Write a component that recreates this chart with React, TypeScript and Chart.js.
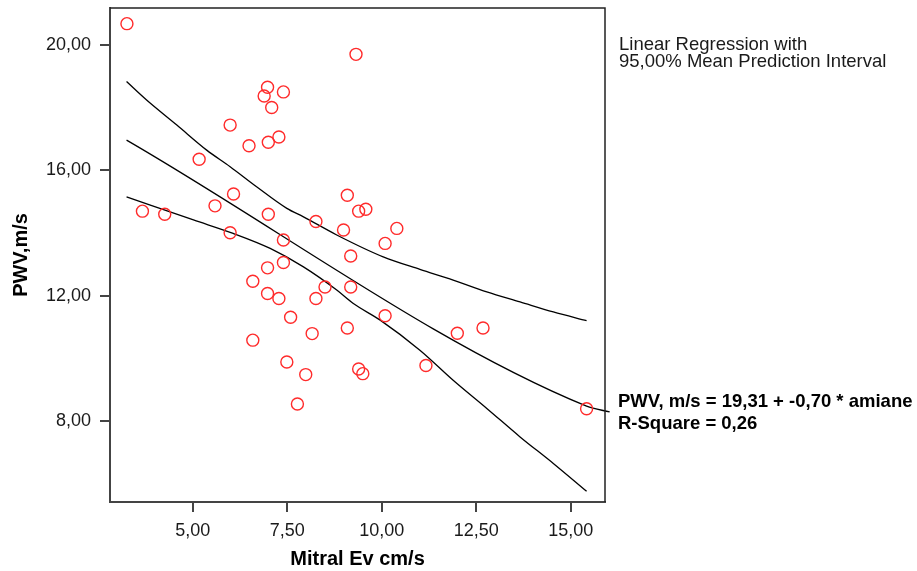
import React, { useEffect, useRef } from "react";
import { Chart, registerables } from "chart.js";

Chart.register(...registerables);

// Observed points (Mitral Ev cm/s, PWV m/s)
const pointX = [3.26, 5.99, 6.98, 6.89, 7.40, 7.09, 7.28, 7.00, 6.49, 5.17, 6.08, 9.32, 9.09, 3.67, 4.26, 5.59, 7.00, 5.99, 7.40, 7.40, 6.98, 6.59, 6.98, 7.28, 8.26, 7.59, 6.59, 8.16, 7.49, 7.99, 7.77, 8.26, 9.39, 9.58, 8.99, 10.40, 10.09, 9.18, 8.50, 9.18, 10.09, 9.09, 12.00, 12.68, 11.17, 9.39, 9.50, 15.42];
const pointY = [20.69, 17.45, 18.66, 18.38, 18.51, 18.01, 17.07, 16.90, 16.79, 16.36, 15.25, 19.71, 15.21, 14.70, 14.60, 14.87, 14.60, 14.01, 13.78, 13.06, 12.89, 12.46, 12.07, 11.91, 11.91, 11.31, 10.58, 10.79, 9.88, 9.48, 8.54, 14.37, 14.70, 14.76, 14.10, 14.15, 13.67, 13.27, 12.28, 12.28, 11.36, 10.97, 10.80, 10.97, 9.77, 9.66, 9.51, 8.39];

// Regression line (with leader to the equation label)
const fitX = [3.25, 15.42, 16.03];
const fitY = [16.97, 8.47, 8.29];

// 95% mean prediction interval curves
const upperX = [3.25, 3.78, 4.58, 5.37, 5.99, 6.69, 7.49, 7.93, 8.81, 10.04, 11.01, 11.89, 12.78, 13.66, 14.54, 15.42];
const upperY = [18.84, 18.25, 17.45, 16.65, 16.12, 15.48, 14.79, 14.52, 13.94, 13.24, 12.84, 12.50, 12.12, 11.80, 11.48, 11.20];
const lowerX = [3.25, 5.02, 6.07, 7.05, 7.93, 8.81, 9.25, 9.96, 11.01, 11.89, 12.78, 13.66, 14.54, 15.42];
const lowerY = [15.16, 14.42, 13.99, 13.51, 12.92, 12.18, 11.75, 11.22, 10.26, 9.30, 8.40, 7.49, 6.64, 5.75];

const xTicks = [5, 7.5, 10, 12.5, 15];
const yTicks = [8, 12, 16, 20];

const xTitle = "Mitral Ev cm/s";
const yTitle = "PWV,m/s";
const legendLines = ["Linear Regression with", "95,00% Mean Prediction Interval"];
const equationLines = ["PWV, m/s = 19,31 + -0,70 * amiane", "R-Square = 0,26"];

const FONT = "'Liberation Sans', Arial, Helvetica, sans-serif";

const toXY = (xs: number[], ys: number[]) => xs.map((x, i) => ({ x, y: ys[i] }));
const fmt = (v: number) => Number(v).toFixed(2).replace(".", ",");

const annotationPlugin = {
  id: "annotations",
  afterDraw(chart: any) {
    const { ctx, chartArea } = chart;
    ctx.save();
    // top and right frame
    ctx.strokeStyle = "#222";
    ctx.lineWidth = 1.5;
    ctx.beginPath();
    ctx.moveTo(chartArea.left, chartArea.top);
    ctx.lineTo(chartArea.right, chartArea.top);
    ctx.lineTo(chartArea.right, chartArea.bottom);
    ctx.stroke();

    ctx.fillStyle = "#1a1a1a";
    ctx.textAlign = "left";
    ctx.textBaseline = "alphabetic";
    ctx.font = `18.5px ${FONT}`;
    ctx.fillText(legendLines[0], 619, 50);
    ctx.fillText(legendLines[1], 619, 67);
    ctx.font = `bold 18.5px ${FONT}`;
    ctx.fillStyle = "#000";
    ctx.fillText(equationLines[0], 618, 407);
    ctx.fillText(equationLines[1], 618, 428.5);
    ctx.restore();
  },
};

export default function App() {
  const canvasRef = useRef<HTMLCanvasElement | null>(null);

  useEffect(() => {
    const canvas = canvasRef.current;
    if (!canvas) return;
    const lineStyle = {
      type: "line" as const,
      borderColor: "#000",
      borderWidth: 1.3,
      pointRadius: 0,
      fill: false,
      cubicInterpolationMode: "monotone" as const,
      showLine: true,
    };
    const chart = new Chart(canvas, {
      type: "scatter",
      data: {
        datasets: [
          {
            type: "scatter",
            data: toXY(pointX, pointY),
            pointStyle: "circle",
            pointRadius: 6,
            pointBorderWidth: 1.4,
            borderColor: "#ff2b2b",
            backgroundColor: "rgba(0,0,0,0)",
            pointHoverRadius: 6,
          } as any,
          { ...lineStyle, data: toXY(fitX, fitY), clip: false } as any,
          { ...lineStyle, data: toXY(upperX, upperY) } as any,
          { ...lineStyle, data: toXY(lowerX, lowerY) } as any,
        ],
      },
      options: {
        responsive: false,
        animation: false,
        events: [],
        layout: { padding: { left: 0, top: 8, right: 312, bottom: 0 } },
        plugins: { legend: { display: false }, tooltip: { enabled: false } },
        scales: {
          x: {
            type: "linear",
            min: 2.812,
            max: 15.907,
            afterFit: (s: any) => { s.height = 69; s.paddingLeft = 0; s.paddingRight = 0; },
            afterBuildTicks: (s: any) => { s.ticks = xTicks.map((v) => ({ value: v })); },
            border: { display: true, color: "#444", width: 2 },
            grid: { display: true, drawOnChartArea: false, drawTicks: true, tickLength: 10, color: "#444", lineWidth: 2 },
            ticks: {
              padding: 8,
              color: "#1a1a1a",
              font: { family: FONT, size: 18 },
              callback: (v: any) => fmt(v),
              maxRotation: 0,
              autoSkip: false,
            },
            title: {
              display: true,
              text: xTitle,
              color: "#000",
              font: { family: FONT, size: 20, weight: "bold" },
              padding: { top: 0, bottom: 0 },
            },
          },
          y: {
            type: "linear",
            min: 5.41,
            max: 21.19,
            afterFit: (s: any) => { s.width = 110; s.paddingTop = 0; s.paddingBottom = 0; },
            afterBuildTicks: (s: any) => { s.ticks = yTicks.map((v) => ({ value: v })); },
            border: { display: true, color: "#444", width: 2 },
            grid: { display: true, drawOnChartArea: false, drawTicks: true, tickLength: 10, color: "#444", lineWidth: 2 },
            ticks: {
              padding: 9,
              color: "#1a1a1a",
              font: { family: FONT, size: 18 },
              callback: (v: any) => fmt(v),
              autoSkip: false,
            },
            title: {
              display: true,
              text: yTitle,
              color: "#000",
              font: { family: FONT, size: 20, weight: "bold" },
              padding: { top: 9, bottom: 0 },
            },
          },
        },
      },
      plugins: [annotationPlugin],
    });
    return () => chart.destroy();
  }, []);

  return (
    <div style={{ position: "fixed", left: 0, top: 0, width: 917, height: 571, background: "#fff" }}>
      <canvas ref={canvasRef} width={917} height={571} style={{ display: "block", width: 917, height: 571 }} />
    </div>
  );
}
